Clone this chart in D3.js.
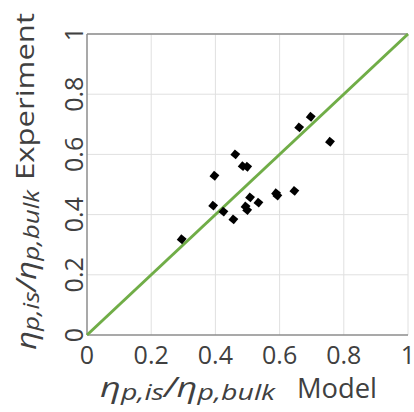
<!DOCTYPE html>
<html>
<head>
<meta charset="utf-8">
<script src="https://cdn.jsdelivr.net/npm/d3@7"></script>
<style>
  body { margin: 0; background: #fff; }
  svg text { font-family: 'Open Sans', sans-serif; fill: #404040; }
</style>
</head>
<body>
<div id="chart"></div>
<script>
// model vs experiment ratio
var modelVals = [0.295, 0.393, 0.397, 0.425, 0.456, 0.462, 0.485, 0.494, 0.499, 0.499, 0.508, 0.534, 0.589, 0.593, 0.646, 0.661, 0.697, 0.757]
var expVals = [0.318, 0.430, 0.529, 0.410, 0.384, 0.600, 0.561, 0.427, 0.559, 0.415, 0.457, 0.440, 0.471, 0.463, 0.479, 0.690, 0.725, 0.642]
var tickVals = [0, 0.2, 0.4, 0.6, 0.8, 1]
var tickLabels = ['0', '0.2', '0.4', '0.6', '0.8', '1']

var margin = { top: 34, left: 87, right: 6, bottom: 77 }
var width = 414 - margin.left - margin.right
var height = 412 - margin.top - margin.bottom

var root = d3
  .select('#chart')
  .append('svg')
  .attr('width', 414)
  .attr('height', 412)
var svg = root
  .append('g')
  .attr('transform', 'translate(' + margin.left + ',' + margin.top + ')')

var xPositionScale = d3.scaleLinear().domain([0, 1]).range([0, width])
var yPositionScale = d3.scaleLinear().domain([0, 1]).range([height, 0])

// grid
svg.selectAll('.vgrid')
  .data(tickVals.slice(1))
  .enter().append('line')
  .attr('x1', d => xPositionScale(d)).attr('x2', d => xPositionScale(d))
  .attr('y1', 0).attr('y2', height)
  .attr('stroke', '#e0e0e0').attr('stroke-width', 1)
svg.selectAll('.hgrid')
  .data(tickVals.slice(1))
  .enter().append('line')
  .attr('y1', d => yPositionScale(d)).attr('y2', d => yPositionScale(d))
  .attr('x1', 0).attr('x2', width)
  .attr('stroke', '#e0e0e0').attr('stroke-width', 1)

// axis lines
svg.append('line').attr('x1', 0).attr('x2', width).attr('y1', 0).attr('y2', 0)
  .attr('stroke', '#8c8c8c').attr('stroke-width', 1.5)
svg.append('line').attr('x1', 0).attr('x2', width).attr('y1', height).attr('y2', height)
  .attr('stroke', '#8c8c8c').attr('stroke-width', 1.5)
svg.append('line').attr('x1', 0).attr('x2', 0).attr('y1', 0).attr('y2', height)
  .attr('stroke', '#8c8c8c').attr('stroke-width', 1.5)

// x tick labels
svg.selectAll('.xtick')
  .data(tickVals)
  .enter().append('text')
  .attr('x', d => xPositionScale(d))
  .attr('y', height + 29)
  .attr('text-anchor', 'middle')
  .attr('font-size', 25)
  .text((d, i) => tickLabels[i])

// y tick labels (rotated)
svg.selectAll('.ytick')
  .data(tickVals)
  .enter().append('text')
  .attr('transform', d => 'translate(-4,' + yPositionScale(d) + ') rotate(-90)')
  .attr('text-anchor', 'middle')
  .attr('font-size', 25)
  .text((d, i) => tickLabels[i])

// 1:1 line
svg.append('line')
  .attr('x1', xPositionScale(0)).attr('y1', yPositionScale(0))
  .attr('x2', xPositionScale(1)).attr('y2', yPositionScale(1))
  .attr('stroke', '#70ad47').attr('stroke-width', 3)

// points
var pts = modelVals.map((m, i) => ({ m: m, e: expVals[i] }))
svg.selectAll('.pt')
  .data(pts)
  .enter().append('path')
  .attr('d', d3.symbol().type(d3.symbolSquare).size(49))
  .attr('transform', d => 'translate(' + xPositionScale(d.m) + ',' + yPositionScale(d.e) + ') rotate(40)')
  .attr('fill', '#000')

// axis titles: math part + word
function mathTitle(sel, len) {
  var serif = "'DejaVu Serif', serif"
  sel.attr('font-family', serif).attr('font-style', 'italic').attr('font-size', 28)
    .attr('textLength', len).attr('lengthAdjust', 'spacingAndGlyphs')
  sel.append('tspan').text('η')
  sel.append('tspan').attr('font-size', 22).attr('dy', 3).text('p,is')
  sel.append('tspan').attr('dy', -3).text('/η')
  sel.append('tspan').attr('font-size', 22).attr('dy', 3).text('p,bulk')
}

var xTitle = root.append('g').attr('transform', 'translate(0,397)')
mathTitle(xTitle.append('text').attr('x', 100), 175)
xTitle.append('text')
  .attr('x', 297)
  .attr('y', 1)
  .attr('font-size', 27)
  .attr('textLength', 80)
  .attr('lengthAdjust', 'spacingAndGlyphs')
  .text('Model')

var yTitle = root.append('g').attr('transform', 'translate(34,0) rotate(-90)')
mathTitle(yTitle.append('text').attr('x', -350).attr('y', 2), 160)
yTitle.append('text')
  .attr('x', -180)
  .attr('font-size', 26)
  .attr('textLength', 167)
  .attr('lengthAdjust', 'spacingAndGlyphs')
  .text('Experiment')
</script>
</body>
</html>
